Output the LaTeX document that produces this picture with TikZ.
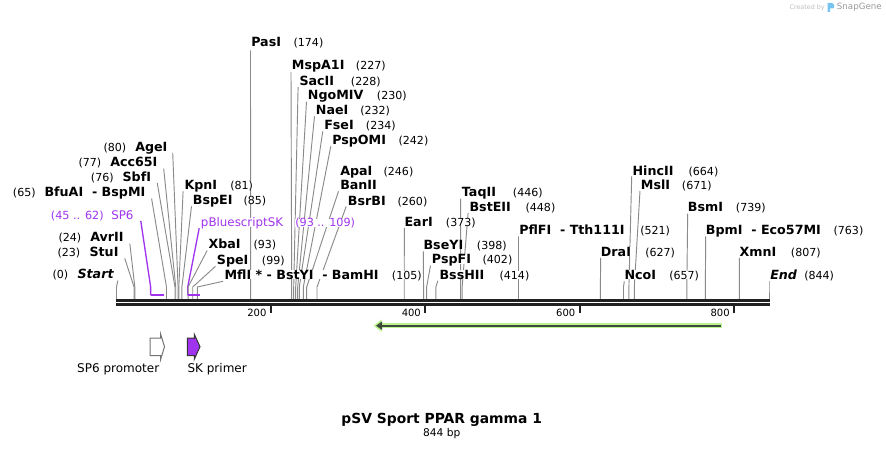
\documentclass[tikz,border=0pt]{standalone}
\usepackage{fontspec}
\setmainfont{DejaVu Sans}[ItalicFont={DejaVu Sans Oblique},BoldItalicFont={DejaVu Sans Bold Oblique}]
\usetikzlibrary{arrows.meta}
\pgfdeclarelayer{lines}
\pgfsetlayers{lines,main}
\definecolor{cutgray}{RGB}{138,138,138}
\definecolor{primer}{RGB}{160,52,238}
\definecolor{halo}{RGB}{190,243,148}
\definecolor{featdark}{RGB}{62,74,58}
\definecolor{snapblue}{RGB}{120,196,240}
\newcommand{\bpx}[1]{116.3+0.772*#1}

\begin{document}
\begin{tikzpicture}[x=0.75pt,y=-0.75pt,
    enz/.style={font=\bfseries\fontsize{9.5}{11}\selectfont, fill=white, inner sep=0pt, anchor=base west, text depth=0pt},
    enzit/.style={enz, font=\bfseries\itshape\fontsize{9.5}{11}\selectfont},
    sitenum/.style={font=\fontsize{8.3}{10}\selectfont, fill=white, inner sep=0pt, anchor=base west, text depth=0pt},
    prm/.style={font=\fontsize{8.9}{10}\selectfont, text=primer, fill=white, inner sep=0pt, anchor=base west, text depth=0pt},
    prmnum/.style={prm, font=\fontsize{8.4}{10}\selectfont},
    cutline/.style={draw=cutgray, line width=0.7pt},
    prmline/.style={draw=primer, line width=1pt},
    prmbar/.style={draw=primer, line width=1.5pt},
    backbone/.style={draw=black!87, line width=2pt},
    rulertick/.style={draw=black!87, line width=1.5pt},
    ticklbl/.style={font=\fontsize{7.5}{9}\selectfont, inner sep=0pt, anchor=base east},
    legendlbl/.style={font=\fontsize{9}{11}\selectfont, inner sep=0pt, text depth=0pt}]
    \useasboundingbox (0,0) rectangle (886,449);
    % cut sites on the backbone
    \coordinate (c0) at (116.5,287);
    \coordinate (c23) at (\bpx{23},287);
    \coordinate (c24) at (\bpx{24},287);
    \coordinate (c65) at (\bpx{65},287);
    \coordinate (c76) at (\bpx{76},287);
    \coordinate (c77) at (\bpx{77},287);
    \coordinate (c80) at (\bpx{80},287);
    \coordinate (c81) at (\bpx{81},287);
    \coordinate (c85) at (\bpx{85},287);
    \coordinate (c93) at (\bpx{93},287);
    \coordinate (c99) at (\bpx{99},287);
    \coordinate (c105) at (\bpx{105},287);
    \coordinate (c174) at (\bpx{174},287);
    \coordinate (c227) at (291.7,287);
    \coordinate (c228) at (293.7,287);
    \coordinate (c230) at (295.7,287);
    \coordinate (c232) at (297.7,287);
    \coordinate (c234) at (299.3,287);
    \coordinate (c242) at (303.3,287);
    \coordinate (c246) at (306.7,287);
    \coordinate (c260) at (317,287);
    \coordinate (c373) at (\bpx{373},287);
    \coordinate (c398) at (\bpx{398},287);
    \coordinate (c402) at (\bpx{402},287);
    \coordinate (c414) at (\bpx{414},287);
    \coordinate (c446) at (\bpx{446},287);
    \coordinate (c448) at (\bpx{448},287);
    \coordinate (c521) at (\bpx{521},287);
    \coordinate (c627) at (\bpx{627},287);
    \coordinate (c657) at (\bpx{657},287);
    \coordinate (c664) at (\bpx{664},287);
    \coordinate (c671) at (\bpx{671},287);
    \coordinate (c739) at (\bpx{739},287);
    \coordinate (c763) at (\bpx{763},287);
    \coordinate (c807) at (\bpx{807},287);
    \coordinate (c844) at (769,287);
    % backbone and ruler
    \draw[backbone] (116,300.3) -- (769.5,300.3);
    \draw[backbone] (116,304.3) -- (769.5,304.3);
    \draw[rulertick] (\bpx{200},305) -- ++(0,8.3);
    \draw[rulertick] (\bpx{400},305) -- ++(0,8.3);
    \draw[rulertick] (\bpx{600},305) -- ++(0,8.3);
    \draw[rulertick] (\bpx{800},305) -- ++(0,8.3);
    \node[ticklbl] (t200) at (\bpx{200}-4,316) {200};
    \node[ticklbl] (t400) at (\bpx{400}-4,316) {400};
    \node[ticklbl] (t600) at (\bpx{600}-4,316) {600};
    \node[ticklbl] (t800) at (\bpx{800}-4,316) {800};
    % left labels
    \node[sitenum] (start-n) at (52.3,278.8) {(0)};
    \node[enzit] (start) at (77.3,278.8) {Start};
    \node[sitenum] (stuI-n) at (57.3,256.5) {(23)};
    \node[enz] (stuI) at (89.3,256.5) {StuI};
    \node[sitenum] (avrII-n) at (58.3,241.8) {(24)};
    \node[enz] (avrII) at (90,241.8) {AvrII};
    \node[sitenum] (bfuAI-n) at (12.7,196.8) {(65)};
    \node[enz] (bfuAI) at (44.3,196.8) {BfuAI~~- BspMI};
    \node[sitenum] (sbfI-n) at (90.7,181.2) {(76)};
    \node[enz] (sbfI) at (122.3,181.2) {SbfI};
    \node[sitenum] (acc65I-n) at (78.3,166.8) {(77)};
    \node[enz] (acc65I) at (110,166.8) {Acc65I};
    \node[sitenum] (ageI-n) at (103.3,151.2) {(80)};
    \node[enz] (ageI) at (135,151.2) {AgeI};
    % primers
    \node[prmnum] (sp6-n) at (50.7,219.6) {(45 .. 62)};
    \node[prm] (sp6) at (111,219.6) {SP6};
    \coordinate (sp6-a) at (\bpx{44.5},295.3);
    \coordinate (sp6-b) at (\bpx{62},295.3);
    \node[prm] (pbs) at (200.7,227) {pBluescriptSK};
    \node[prmnum] (pbs-n) at (295,227) {(93 .. 109)};
    \coordinate (pbs-a) at (\bpx{92.5},295.3);
    \coordinate (pbs-b) at (\bpx{109},295.3);
    % right labels
    \node[enz] (kpnI) at (184.3,189.5) {KpnI};
    \node[sitenum] (kpnI-n) at (230,189.5) {(81)};
    \node[enz] (bspEI) at (192.7,204.5) {BspEI};
    \node[sitenum] (bspEI-n) at (243.3,204.5) {(85)};
    \node[enz] (xbaI) at (208.3,248.8) {XbaI};
    \node[sitenum] (xbaI-n) at (253.3,248.8) {(93)};
    \node[enz] (speI) at (216.7,264.5) {SpeI};
    \node[sitenum] (speI-n) at (261.7,264.5) {(99)};
    \node[enz] (mflI) at (224.3,279.5) {MflI * - BstYI~~- BamHI};
    \node[sitenum] (mflI-n) at (391.7,279.5) {(105)};
    \node[enz] (pasI) at (251,47) {PasI};
    \node[sitenum] (pasI-n) at (293.3,47) {(174)};
    \node[enz] (mspA1I) at (291.7,69.5) {MspA1I};
    \node[sitenum] (mspA1I-n) at (355.7,69.5) {(227)};
    \node[enz] (sacII) at (299.3,85.2) {SacII};
    \node[sitenum] (sacII-n) at (350.7,85.2) {(228)};
    \node[enz] (ngoMIV) at (307.7,99.8) {NgoMIV};
    \node[sitenum] (ngoMIV-n) at (376.7,99.8) {(230)};
    \node[enz] (naeI) at (315.7,114.5) {NaeI};
    \node[sitenum] (naeI-n) at (360,114.5) {(232)};
    \node[enz] (fseI) at (324,129.5) {FseI};
    \node[sitenum] (fseI-n) at (365.7,129.5) {(234)};
    \node[enz] (pspOMI) at (332,144.5) {PspOMI};
    \node[sitenum] (pspOMI-n) at (398.3,144.5) {(242)};
    \node[enz] (apaI) at (340,175.2) {ApaI};
    \node[sitenum] (apaI-n) at (383.3,175.2) {(246)};
    \node[enz] (banII) at (340,189.5) {BanII};
    \node[enz] (bsrBI) at (347.7,205.2) {BsrBI};
    \node[sitenum] (bsrBI-n) at (397.3,205.2) {(260)};
    \node[enz] (earI) at (404.3,226.2) {EarI};
    \node[sitenum] (earI-n) at (445.7,226.2) {(373)};
    \node[enz] (bseYI) at (423.3,249.5) {BseYI};
    \node[sitenum] (bseYI-n) at (476.7,249.5) {(398)};
    \node[enz] (pspFI) at (431.7,263.8) {PspFI};
    \node[sitenum] (pspFI-n) at (482.3,263.8) {(402)};
    \node[enz] (bssHII) at (439.3,279.5) {BssHII};
    \node[sitenum] (bssHII-n) at (499.3,279.5) {(414)};
    \node[enz] (taqII) at (461.7,196.8) {TaqII};
    \node[sitenum] (taqII-n) at (512.7,196.8) {(446)};
    \node[enz] (bstEII) at (469.3,211.2) {BstEII};
    \node[sitenum] (bstEII-n) at (525.3,211.2) {(448)};
    \node[enz] (pflFI) at (519,234.5) {PflFI~~- Tth111I};
    \node[sitenum] (pflFI-n) at (640,234.5) {(521)};
    \node[enz] (draI) at (600.7,256.2) {DraI};
    \node[sitenum] (draI-n) at (645,256.2) {(627)};
    \node[enz] (ncoI) at (624.3,279.5) {NcoI};
    \node[sitenum] (ncoI-n) at (669,279.5) {(657)};
    \node[enz] (hincII) at (632.3,175.2) {HincII};
    \node[sitenum] (hincII-n) at (688.3,175.2) {(664)};
    \node[enz] (mslI) at (640.7,189.5) {MslI};
    \node[sitenum] (mslI-n) at (681.7,189.5) {(671)};
    \node[enz] (bsmI) at (687.7,211.8) {BsmI};
    \node[sitenum] (bsmI-n) at (735.7,211.8) {(739)};
    \node[enz] (bpmI) at (705.7,234.5) {BpmI~~- Eco57MI};
    \node[sitenum] (bpmI-n) at (833.3,234.5) {(763)};
    \node[enz] (xmnI) at (739.3,256.2) {XmnI};
    \node[sitenum] (xmnI-n) at (790.7,256.2) {(807)};
    \node[enzit] (endL) at (770,279.5) {End};
    \node[sitenum] (endL-n) at (804,279.5) {(844)};
    % lines from labels to sites, behind the labels
    \begin{pgfonlayer}{lines}
    \draw[cutline] ([shift={(4,1.5)}]start.south east) -- (c0) -- ++(0,12);
    \draw[cutline] ([shift={(6,1.5)}]stuI.south east) -- (c23) -- ++(0,12);
    \draw[cutline] ([shift={(6,1.5)}]avrII.south east) -- (c24) -- ++(0,12);
    \draw[cutline] ([shift={(6,1.5)}]bfuAI.south east) -- (c65) -- ++(0,12);
    \draw[cutline] ([shift={(6,1.5)}]sbfI.south east) -- (c76) -- ++(0,12);
    \draw[cutline] ([shift={(6,1.5)}]acc65I.south east) -- (c77) -- ++(0,12);
    \draw[cutline] ([shift={(5,1.5)}]ageI.south east) -- (c80) -- ++(0,12);
    \draw[prmline] ([shift={(7,1)}]sp6.south east) -- (sp6-a |- c0) -- (sp6-a);
    \draw[prmline] ([shift={(-1.5,1)}]pbs.south west) -- (pbs-a |- c0) -- (pbs-a);
    \draw[cutline] ([shift={(-1.2,1.5)}]kpnI.south west) -- (c81) -- ++(0,12);
    \draw[cutline] ([shift={(-1.2,1.5)}]bspEI.south west) -- (c85) -- ++(0,12);
    \draw[cutline] ([shift={(-1.2,1.5)}]xbaI.south west) -- (c93) -- ++(0,12);
    \draw[cutline] ([shift={(-1.2,1.5)}]speI.south west) -- (c99) -- ++(0,12);
    \draw[cutline] ([shift={(-1.2,1.5)}]mflI.south west) -- (c105) -- ++(0,12);
    \draw[cutline] ([shift={(-0.5,3)}]pasI.south west) -- (c174) -- ++(0,12);
    \draw[cutline] ([shift={(-0.7,2.2)}]mspA1I.south west) -- (c227) -- ++(0,12);
    \draw[cutline] ([shift={(-1.2,1.5)}]sacII.south west) -- (c228) -- ++(0,12);
    \draw[cutline] ([shift={(-1.2,1.5)}]ngoMIV.south west) -- (c230) -- ++(0,12);
    \draw[cutline] ([shift={(-1.2,1.5)}]naeI.south west) -- (c232) -- ++(0,12);
    \draw[cutline] ([shift={(-1.2,1.5)}]fseI.south west) -- (c234) -- ++(0,12);
    \draw[cutline] ([shift={(-1.2,1.5)}]pspOMI.south west) -- (c242) -- ++(0,12);
    \draw[cutline] ([shift={(-1.5,1.5)}]banII.south west) -- (c246) -- ++(0,12);
    \draw[cutline] ([shift={(-1.5,1)}]bsrBI.south west) -- (c260) -- ++(0,12);
    \draw[cutline] ([shift={(0,1.5)}]earI.south west) -- (c373) -- ++(0,12);
    \draw[cutline] ([shift={(0,1.5)}]bseYI.south west) -- (c398) -- ++(0,12);
    \draw[cutline] ([shift={(-1.2,1.5)}]pspFI.south west) -- (c402) -- ++(0,12);
    \draw[cutline] ([shift={(-1.5,1)}]bssHII.south west) -- (c414) -- ++(0,12);
    \draw[cutline] ([shift={(-1,1.5)}]taqII.south west) -- (c446) -- ++(0,12);
    \draw[cutline] ([shift={(-1.2,1.5)}]bstEII.south west) -- (c448) -- ++(0,12);
    \draw[cutline] ([shift={(-0.5,1.5)}]pflFI.south west) -- (c521) -- ++(0,12);
    \draw[cutline] ([shift={(0,1.5)}]draI.south west) -- (c627) -- ++(0,12);
    \draw[cutline] ([shift={(0,1.5)}]ncoI.south west) -- (c657) -- ++(0,12);
    \draw[cutline] ([shift={(-0.6,1)}]hincII.south west) -- (c664) -- ++(0,12);
    \draw[cutline] ([shift={(-0.7,1)}]mslI.south west) -- (c671) -- ++(0,12);
    \draw[cutline] ([shift={(0,1.5)}]bsmI.south west) -- (c739) -- ++(0,12);
    \draw[cutline] ([shift={(0,1.5)}]bpmI.south west) -- (c763) -- ++(0,12);
    \draw[cutline] ([shift={(0,1.5)}]xmnI.south west) -- (c807) -- ++(0,12);
    \draw[cutline] ([shift={(-1,1.5)}]endL.south west) -- (c844) -- ++(0,12);
    \end{pgfonlayer}
    \draw[prmbar] (sp6-a) -- (sp6-b);
    \draw[prmbar] (pbs-a) -- (pbs-b);
    % feature arrow
    \draw[draw=halo, line width=3.75pt, -{Triangle[length=6pt,width=9pt]}] (722.3,325.7) -- (373.5,325.7);
    \draw[draw=featdark, line width=1.5pt, -{Triangle[length=4.5pt,width=6pt]}] (720.8,325.7) -- (376,325.7);
    % legend
    \draw[draw=black!55, fill=white, line width=0.75pt] (150,338) -- (160.7,338) -- (160.7,334.3) -- (164.5,346.7) -- (160.7,359.2) -- (160.7,355.5) -- (150,355.5) -- cycle;
    \draw[draw=black!80, fill=primer, line width=0.75pt] (187.3,338) -- (194.3,338) -- (194.3,334.3) -- (200,346.7) -- (194.3,359.2) -- (194.3,355.5) -- (187.3,355.5) -- cycle;
    \node[legendlbl, anchor=base east] (lgSP6) at (159.5,372) {SP6 promoter};
    \node[legendlbl, anchor=base west] (lgSK) at (187.3,372) {SK primer};
    % title
    \node[font=\bfseries\fontsize{10.4}{12}\selectfont, inner sep=0pt, anchor=base] (title) at (441.7,423.3) {pSV Sport PPAR gamma 1};
    \node[font=\fontsize{8}{10}\selectfont, inner sep=0pt, anchor=base] (size) at (441.7,436.7) {844 bp};
    % watermark
    \node[font=\fontsize{4.8}{6}\selectfont, text=black!25, inner sep=0pt, anchor=base west] (mark) at (789.3,9.3) {Created by};
    \fill[snapblue] (827.5,2.8) -- (831,2.8) .. controls (834.5,3.5) and (835,6) .. (833.5,8.5) -- (830.2,8.5) -- (830.2,11.8) -- (827.5,11.8) -- cycle;
    \node[font=\fontsize{6.5}{8}\selectfont, text=black!40, inner sep=0pt, anchor=base west] (markSG) at (836.7,9.8) {SnapGene};
\end{tikzpicture}
\end{document}
